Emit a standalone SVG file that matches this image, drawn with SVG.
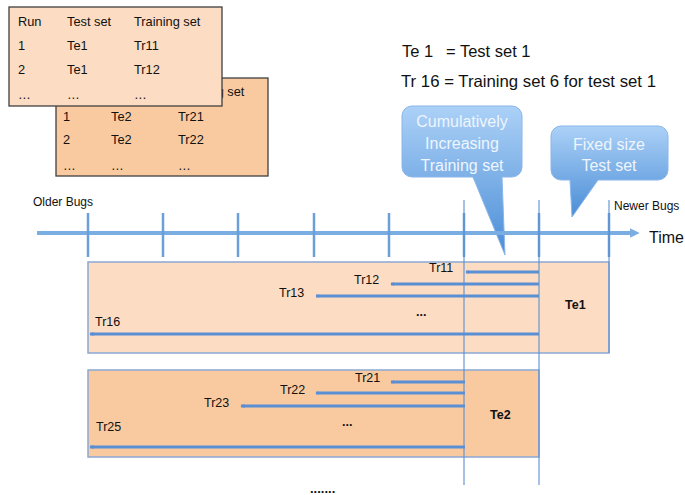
<svg xmlns="http://www.w3.org/2000/svg" width="685" height="495" viewBox="0 0 685 495">
<style>
text{font-family:"Liberation Sans",Arial,sans-serif;fill:#111}
.tb{font-size:12.8px}
.lb{font-size:12.5px}
.bold{font-weight:bold}
.tbl{stroke:#3f3f3f;stroke-width:1.3}
.bar{stroke:#5b8fd4;stroke-width:3;fill:none;marker-start:url(#ah)}
.tick{stroke:#6a9fd8;stroke-width:2.5}
.vl{stroke:#5b8fd0;stroke-width:1.1}
.co{fill:url(#cg);stroke:#8ab6ea;stroke-width:1}
.ct{font-size:16px;fill:#eef5fd;text-anchor:middle}
</style>
<defs>
<linearGradient id="cg" x1="0" y1="0" x2="0" y2="1">
<stop offset="0" stop-color="#acd1f7"/>
<stop offset="1" stop-color="#4a8dd6"/>
</linearGradient>
<marker id="ah" viewBox="0 0 6 6" refX="1" refY="3" markerWidth="1.4" markerHeight="1.4" orient="auto">
<path d="M6,0 L0,3 L6,6 Z" fill="#5b8fd4"/>
</marker>
<marker id="axh" viewBox="0 0 10 10" refX="2" refY="5" markerWidth="2.4" markerHeight="2.4" orient="auto">
<path d="M0,0 L10,5 L0,10 Z" fill="#7aaee3"/>
</marker>
</defs>

<g id="table2" transform="translate(46,71)">
<rect x="10" y="7" width="212" height="98" fill="#F9CAA0" class="tbl"/>
<text class="tb" x="132" y="25">Training set</text>
<text class="tb" x="17" y="50">1</text><text class="tb" x="65" y="50">Te2</text><text class="tb" x="132" y="50">Tr21</text>
<text class="tb" x="17" y="73">2</text><text class="tb" x="65" y="73">Te2</text><text class="tb" x="132" y="73">Tr22</text>
<text class="tb" x="17" y="99" font-size="9px">…</text><text class="tb" x="65" y="99" font-size="9px">…</text><text class="tb" x="132" y="99" font-size="9px">…</text>
</g>
<g id="table1">
<rect x="9" y="7" width="213" height="99" fill="#FCDCC2" class="tbl"/>
<text class="tb" x="18" y="26">Run</text><text class="tb" x="67" y="26">Test set</text><text class="tb" x="134" y="26">Training set</text>
<text class="tb" x="18" y="50">1</text><text class="tb" x="67" y="50">Te1</text><text class="tb" x="134" y="50">Tr11</text>
<text class="tb" x="18" y="74">2</text><text class="tb" x="67" y="74">Te1</text><text class="tb" x="134" y="74">Tr12</text>
<text class="tb" x="18" y="99" font-size="9px">…</text><text class="tb" x="67" y="99" font-size="9px">…</text><text class="tb" x="134" y="99" font-size="9px">…</text>
</g>

<g id="legend">
<text x="402" y="57" font-size="16.5px">Te 1</text>
<text x="446" y="57" font-size="16.5px">= Test set 1</text>
<text x="401" y="87" font-size="16.5px" textLength="255" lengthAdjust="spacingAndGlyphs">Tr 16 = Training set 6 for test set 1</text>
</g>

<g id="callout-training">
<path class="co" d="M412,106 H512 A10,10 0 0 1 522,116 V167 A10,10 0 0 1 512,177 H502 L505,255 L473,177 H412 A10,10 0 0 1 402,167 V116 A10,10 0 0 1 412,106 Z"/>
<text class="ct" x="462" y="127">Cumulatively</text>
<text class="ct" x="462" y="149">Increasing</text>
<text class="ct" x="462" y="171">Training set</text>
</g>
<g id="callout-test">
<path class="co" d="M561,126 H658 A10,10 0 0 1 668,136 V170 A10,10 0 0 1 658,180 H598 L572,217 L570,180 H561 A10,10 0 0 1 551,170 V136 A10,10 0 0 1 561,126 Z"/>
<text class="ct" x="609" y="150">Fixed size</text>
<text class="ct" x="609" y="171">Test set</text>
</g>

<g id="te1-box">
<rect x="88" y="262" width="521" height="91" fill="#FCDCC2" stroke="#8aa8d4" stroke-width="1.5"/>
<text class="lb" x="429" y="272">Tr11</text>
<text class="lb" x="354" y="284">Tr12</text>
<text class="lb" x="279" y="297">Tr13</text>
<text class="lb bold" x="416" y="316">...</text>
<text class="lb" x="95" y="326">Tr16</text>
<text class="lb bold" x="565" y="309">Te1</text>
</g>
<g id="te2-box">
<rect x="88" y="370" width="451" height="87" fill="#F9CAA0" stroke="#8aa8d4" stroke-width="1.5"/>
<text class="lb" x="355" y="382">Tr21</text>
<text class="lb" x="280" y="394">Tr22</text>
<text class="lb" x="204" y="407">Tr23</text>
<text class="lb bold" x="342" y="426">...</text>
<text class="lb" x="96" y="431">Tr25</text>
<text class="lb bold" x="490" y="419">Te2</text>
</g>

<g id="timeline">
<line x1="37" y1="233" x2="632" y2="233" stroke="#7aaee3" stroke-width="4" marker-end="url(#axh)"/>
<text x="33" y="206" font-size="12px">Older Bugs</text>
<text x="614" y="210" font-size="12px">Newer Bugs</text>
<text x="649" y="243" font-size="16px">Time</text>
</g>

<g id="connectors">
<line class="tick" x1="88" y1="213" x2="88" y2="257"/>
<line class="tick" x1="163" y1="213" x2="163" y2="257"/>
<line class="tick" x1="238" y1="213" x2="238" y2="257"/>
<line class="tick" x1="314" y1="213" x2="314" y2="257"/>
<line class="tick" x1="389" y1="213" x2="389" y2="257"/>
<line class="tick" x1="464" y1="213" x2="464" y2="257"/>
<line class="tick" x1="539" y1="213" x2="539" y2="257"/>
<line class="tick" x1="609" y1="213" x2="609" y2="257"/>
<line class="vl" x1="464" y1="200" x2="464" y2="485"/>
<line class="vl" x1="539" y1="200" x2="539" y2="485"/>
<line class="vl" x1="609" y1="200" x2="609" y2="353"/>
<line class="bar" x1="466" y1="272" x2="539" y2="272"/>
<line class="bar" x1="391" y1="284" x2="539" y2="284"/>
<line class="bar" x1="316" y1="296" x2="539" y2="296"/>
<line class="bar" x1="90" y1="334" x2="539" y2="334"/>
<line class="bar" x1="391" y1="382" x2="465" y2="382"/>
<line class="bar" x1="316" y1="393" x2="465" y2="393"/>
<line class="bar" x1="241" y1="406" x2="465" y2="406"/>
<line class="bar" x1="90" y1="447" x2="465" y2="447"/>
</g>

<text x="310" y="493" font-size="13px" font-weight="bold">.......</text>
</svg>
